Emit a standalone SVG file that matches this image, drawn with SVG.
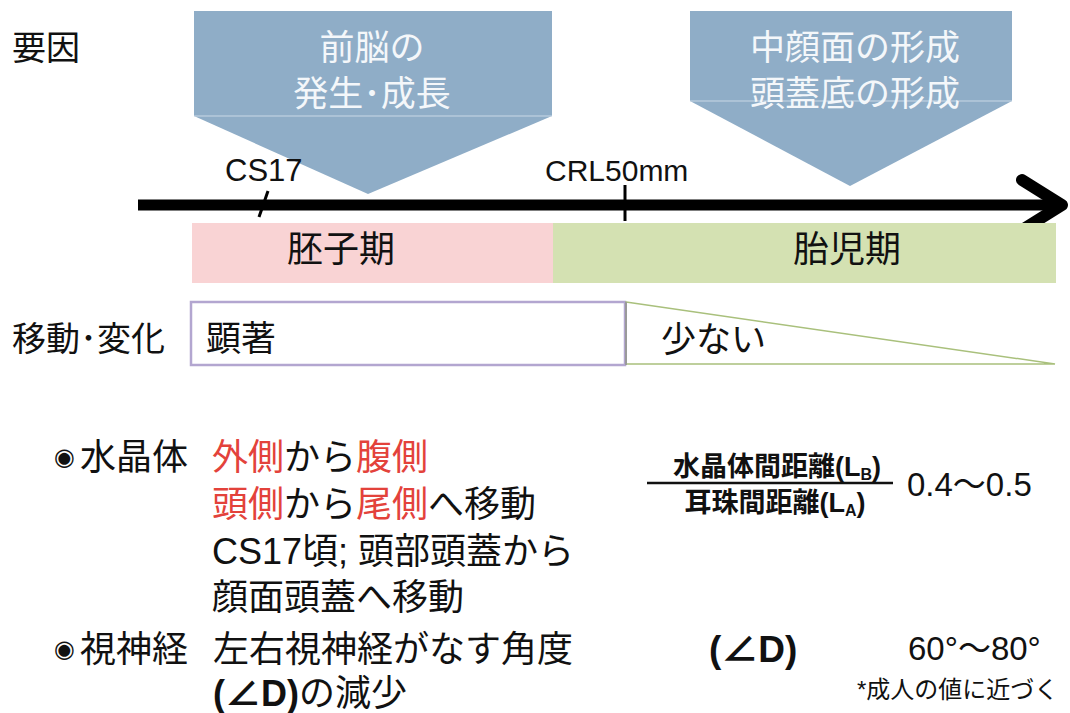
<svg xmlns="http://www.w3.org/2000/svg" width="1070" height="713" viewBox="0 0 1070 713">
<style>
text{font-family:"Liberation Sans","Noto Sans CJK JP",sans-serif;fill:#111}
.cjk{font-family:"Noto Sans CJK JP",sans-serif}
.w{fill:#f4f7fa}
.red{fill:#e3423b}
.b{font-weight:bold}
.pent{fill:#8fadc7}
.seam{stroke:#c9d8e6;stroke-width:1}
.mark{font-family:"DejaVu Sans",sans-serif;font-size:24px}
</style>
<rect width="1070" height="713" fill="#fff"/>

<text x="12" y="60" font-size="34" class="cjk">要因</text>

<g id="factor1">
<polygon class="pent" points="194,11 552,11 552,116 368,194 194,116"/>
<line class="seam" x1="194" y1="116" x2="552" y2="116"/>
<text x="372" y="60" font-size="35" text-anchor="middle" class="cjk w">前脳の</text>
<text x="372" y="106" font-size="35" text-anchor="middle" class="cjk w">発生･成長</text>
</g>

<g id="factor2">
<polygon class="pent" points="690,11 1012,11 1012,101 850,186 690,101"/>
<line class="seam" x1="690" y1="101" x2="1012" y2="101"/>
<text x="855" y="60" font-size="35" text-anchor="middle" class="cjk w">中顔面の形成</text>
<text x="855" y="106" font-size="35" text-anchor="middle" class="cjk w">頭蓋底の形成</text>
</g>

<g id="connectors">
<line x1="138" y1="205" x2="1060" y2="205" stroke="#000" stroke-width="11"/>
<polyline points="1022,180 1062,205 1022,230" fill="none" stroke="#000" stroke-width="12" stroke-linecap="round" stroke-linejoin="round"/>
<line x1="268" y1="191" x2="259" y2="217" stroke="#000" stroke-width="3"/>
<line x1="625" y1="185" x2="625" y2="221" stroke="#000" stroke-width="3"/>
</g>

<text x="225" y="181" font-size="31">CS17</text>
<text x="545" y="181" font-size="30">CRL50mm</text>

<g id="embryo">
<rect x="192" y="223" width="361" height="60" fill="#f9d3d4"/>
<text x="341" y="262" font-size="36" text-anchor="middle" class="cjk">胚子期</text>
</g>
<g id="fetus">
<rect x="553" y="223" width="503" height="60" fill="#d4e1b2"/>
<text x="847" y="262" font-size="36" text-anchor="middle" class="cjk">胎児期</text>
</g>

<text x="12" y="351" font-size="34" class="cjk">移動･変化</text>

<g id="marked">
<rect x="191" y="302" width="434" height="63" fill="#fff" stroke="#b3a6d0" stroke-width="2.5"/>
<text x="206" y="351" font-size="35" class="cjk">顕著</text>
</g>
<g id="few">
<polygon points="626,302 1055,364 626,364" fill="#fff" stroke="#a9c07c" stroke-width="1.5"/>
<line x1="626" y1="302" x2="626" y2="365" stroke="#9a9a9a" stroke-width="2"/>
<text x="661" y="352" font-size="35" class="cjk">少ない</text>
</g>

<g id="lens">
<text x="54" y="465" class="mark">◉</text>
<text x="80" y="470" font-size="36" class="cjk">水晶体</text>
<text x="212" y="470" font-size="36" class="cjk"><tspan class="red">外側</tspan>から<tspan class="red">腹側</tspan></text>
<text x="212" y="517" font-size="36" class="cjk"><tspan class="red">頭側</tspan>から<tspan class="red">尾側</tspan>へ移動</text>
<text x="212" y="564" font-size="36">CS17頃; 頭部頭蓋から</text>
<text x="212" y="610" font-size="36" class="cjk">顔面頭蓋へ移動</text>
</g>

<g id="ratio">
<text x="777" y="476" font-size="27" text-anchor="middle" class="b">水晶体間距離(L<tspan font-size="16" dy="4">B</tspan><tspan dy="-4">)</tspan></text>
<line x1="647" y1="483" x2="893" y2="483" stroke="#111" stroke-width="2.5"/>
<text x="775" y="512" font-size="27" text-anchor="middle" class="b">耳珠間距離(L<tspan font-size="16" dy="4">A</tspan><tspan dy="-4">)</tspan></text>
<text x="907" y="496" font-size="33">0.4～0.5</text>
</g>

<g id="optic">
<text x="54" y="657" class="mark">◉</text>
<text x="80" y="662" font-size="36" class="cjk">視神経</text>
<text x="213" y="662" font-size="36" class="cjk">左右視神経がなす角度</text>
<text x="213" y="706" font-size="36"><tspan class="b">(∠D)</tspan>の減少</text>
<text x="709" y="662" font-size="37" class="b">(∠D)</text>
<text x="908" y="660" font-size="33">60°～80°</text>
<text x="857" y="698" font-size="24">*成人の値に近づく</text>
</g>
</svg>
